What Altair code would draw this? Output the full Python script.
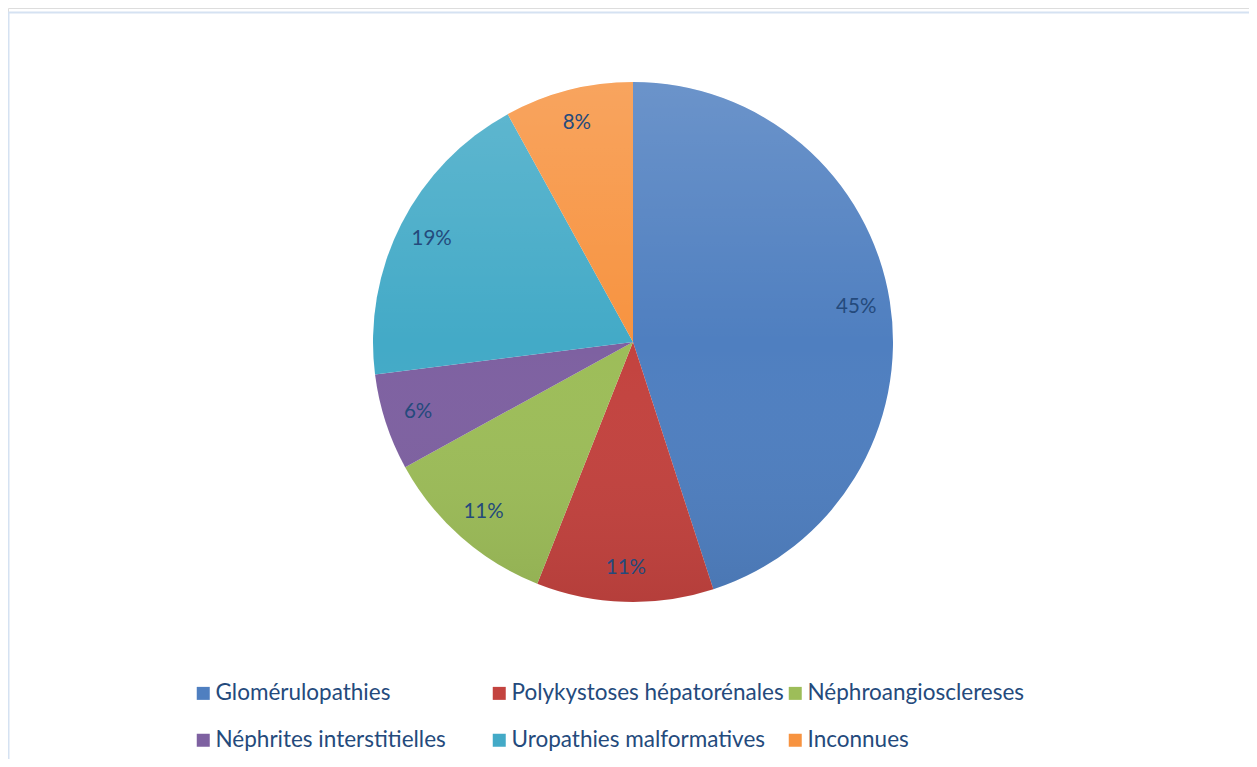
import altair as alt
import pandas as pd

categories = ["Glomérulopathies", "Polykystoses hépatorénales", "Néphroangiosclereses",
              "Néphrites interstitielles", "Uropathies malformatives", "Inconnues"]
values = [45, 11, 11, 6, 19, 8]
labels = ["45%", "11%", "11%", "6%", "19%", "8%"]
colors = ["#4F7FC0", "#C3433F", "#9DBD59", "#7E61A1", "#43AAC7", "#F79340"]

df = pd.DataFrame({"cat": categories, "value": values, "label": labels,
                   "idx": list(range(len(categories)))})

W, H = 1241, 751
CX, CY = 625, 334
TXT = "#244A7C"
FONT = "Lato"

base = alt.Chart(df).encode(
    theta=alt.Theta("value:Q", stack=True),
    order=alt.Order("idx:Q"),
)

arcs = base.mark_arc(outerRadius=260).encode(
    x=alt.value(CX), y=alt.value(CY),
    color=alt.Color(
        "cat:N",
        scale=alt.Scale(domain=categories, range=colors),
        legend=alt.Legend(
            title=None, orient="none", legendX=184, legendY=674,
            direction="horizontal",
            columns=3, gridAlign="all", symbolType="square", symbolSize=169,
            symbolStrokeWidth=0, labelFontSize=22.5, labelFont=FONT,
            labelColor=TXT, labelOffset=1, columnPadding=0, rowPadding=24,
            labelLimit=0, padding=0,
        ),
    ),
)

frame = pd.DataFrame({"a": [0]})

shade = alt.Chart(frame).mark_arc(
    theta=0, theta2=6.2832, outerRadius=260,
    fill=alt.Gradient(
        gradient="linear", x1=0, x2=0, y1=0, y2=1,
        stops=[alt.GradientStop(color="rgba(255,255,255,0.16)", offset=0),
               alt.GradientStop(color="rgba(255,255,255,0.0)", offset=0.5),
               alt.GradientStop(color="rgba(0,0,0,0.07)", offset=1)],
    ),
).encode(x=alt.value(CX), y=alt.value(CY))

text = base.mark_text(radius=226, fontSize=20.5, font=FONT, color=TXT).encode(
    x=alt.value(CX), y=alt.value(CY), text="label:N"
)

top_rule = alt.Chart(frame).mark_rule(color="#D5E2F2", strokeWidth=2).encode(
    x=alt.value(0), x2=alt.value(W), y=alt.value(4.5)
)
left_rule = alt.Chart(frame).mark_rule(color="#D5E2F2", strokeWidth=2).encode(
    x=alt.value(0.5), y=alt.value(4.5), y2=alt.value(H)
)

chart = alt.layer(top_rule, left_rule, arcs, shade, text).properties(
    width=W, height=H, autosize=alt.AutoSizeParams(type="none"), padding=0
).configure_view(stroke=None).configure(background="white")

chart.save("out.html", embed_options={"renderer": "svg", "actions": False})
